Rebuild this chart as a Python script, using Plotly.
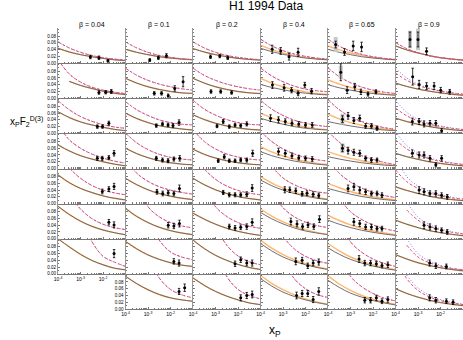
import plotly.graph_objects as go
from plotly.subplots import make_subplots

BETAS = ["0.04", "0.1", "0.2", "0.4", "0.65", "0.9"]
XGRID = [1e-4, 3.16e-4, 1e-3, 3.16e-3, 1e-2, 3.16e-2, 1e-1]
Y_TICKS = [0, 0.02, 0.04, 0.06, 0.08]
Y_TICK_TEXT = ["0.00", "0.02", "0.04", "0.06", "0.08"]
X_TICKS = [1e-4, 1e-3, 1e-2]
X_TICK_TEXT = ["10<sup>-4</sup>", "10<sup>-3</sup>", "10<sup>-2</sup>"]
N = None

# ---------------- beta = 0.04 (rows 1-7) ----------------
X1 = [[0.00275, 0.0066, 0.0166], [0.0066, 0.0132, 0.0234], [0.0056, 0.0095, 0.0182],
      [0.0056, 0.0093, 0.0182, 0.031], [0.0093, 0.0182, 0.031], [0.0182, 0.031], [0.031]]
Y1 = [[0.018, 0.016, 0.007], [0.017, 0.018, 0.020], [0.020, 0.020, 0.030],
      [0.030, 0.030, 0.032, 0.045], [0.036, 0.043, 0.051], [0.049, 0.041], [0.060]]
E1 = [[0.005, 0.005, 0.004], [0.005, 0.005, 0.006], [0.005, 0.005, 0.006],
      [0.006, 0.006, 0.006, 0.008], [0.007, 0.007, 0.009], [0.008, 0.009], [0.012]]
DASH1 = [[0.063, 0.045, 0.032, 0.023, 0.016, 0.012, 0.009],
         [0.115, 0.072, 0.048, 0.033, 0.024, 0.018, 0.014],
         [0.097, 0.070, 0.050, 0.036, 0.026, 0.019, 0.015],
         [0.130, 0.085, 0.060, 0.043, 0.031, 0.022, 0.016],
         [N, 0.105, 0.075, 0.054, 0.040, 0.032, 0.026],
         [N, 0.130, 0.088, 0.060, 0.043, 0.033, 0.027],
         [N, N, 0.160, 0.096, 0.052, 0.035, 0.022]]
SOLID1 = [[0.044, 0.033, 0.025, 0.019, 0.014, 0.010, 0.0075],
          [N, 0.050, 0.038, 0.029, 0.021, 0.015, 0.011],
          [0.064, 0.047, 0.034, 0.025, 0.018, 0.012, 0.008],
          [0.070, 0.052, 0.038, 0.028, 0.020, 0.013, 0.008],
          [0.085, 0.062, 0.045, 0.033, 0.023, 0.016, 0.011],
          [0.096, 0.072, 0.052, 0.037, 0.026, 0.018, 0.012],
          [0.104, 0.080, 0.058, 0.040, 0.027, 0.017, 0.012]]

# ---------------- beta = 0.1 (rows 1-8) ----------------
X2 = [[0.0012, 0.0029, 0.0066], [0.0019, 0.004, 0.0079, 0.0155, 0.0363],
      [0.00234, 0.0044, 0.0078, 0.0129, 0.024], [0.00234, 0.0044, 0.0078, 0.0141, 0.0257],
      [0.0025, 0.0045, 0.0079, 0.0141, 0.025], [0.0079, 0.0141, 0.025],
      [0.0141, 0.024], [0.024, 0.0427]]
Y2 = [[0.009, 0.016, 0.022], [0.0145, 0.0145, 0.0075, 0.029, 0.049],
      [0.023, 0.028, 0.025, 0.023, 0.032], [0.030, 0.025, 0.023, 0.028, 0.030],
      [0.035, 0.030, 0.032, 0.030, 0.045], [0.040, 0.038, 0.045],
      [0.037, 0.032], [0.052, 0.063]]
E2 = [[0.004, 0.005, 0.006], [0.005, 0.005, 0.005, 0.008, 0.015],
      [0.005, 0.005, 0.005, 0.006, 0.008], [0.006, 0.006, 0.006, 0.006, 0.008],
      [0.007, 0.007, 0.007, 0.007, 0.010], [0.008, 0.008, 0.010],
      [0.008, 0.009], [0.009, 0.011]]
DASH2 = [[0.063, 0.045, 0.032, 0.023, 0.017, 0.013, 0.010],
         [0.089, 0.068, 0.053, 0.042, 0.034, 0.028, 0.024],
         [0.094, 0.070, 0.053, 0.040, 0.032, 0.027, 0.025],
         [0.105, 0.076, 0.056, 0.042, 0.033, 0.028, 0.025],
         [0.130, 0.090, 0.066, 0.050, 0.040, 0.033, 0.028],
         [N, 0.160, 0.095, 0.065, 0.048, 0.038, 0.032],
         [N, N, 0.170, 0.100, 0.065, 0.050, 0.042],
         [N, N, 0.160, 0.092, 0.058, 0.042, 0.033]]
SOLID2 = [[0.041, 0.032, 0.025, 0.019, 0.015, 0.012, 0.010],
          [0.059, 0.045, 0.034, 0.026, 0.020, 0.016, 0.0145],
          [0.060, 0.044, 0.032, 0.023, 0.017, 0.013, 0.010],
          [0.060, 0.044, 0.032, 0.023, 0.017, 0.013, 0.011],
          [0.075, 0.056, 0.041, 0.030, 0.022, 0.016, 0.012],
          [0.090, 0.066, 0.048, 0.034, 0.024, 0.017, 0.012],
          [0.096, 0.074, 0.056, 0.043, 0.033, 0.026, 0.022],
          [0.097, 0.075, 0.057, 0.043, 0.033, 0.027, 0.023]]

# ---------------- beta = 0.2 ----------------
X3 = [[0.0006, 0.00155, 0.0035], [0.00063, 0.0017, 0.0052],
      [0.00117, 0.0022, 0.0041, 0.0074, 0.0132, 0.0245],
      [0.00132, 0.00245, 0.0041, 0.0074, 0.0132, 0.0245, 0.0447],
      [0.0022, 0.0041, 0.0074, 0.0132, 0.0245, 0.0427],
      [0.0041, 0.0074, 0.0132, 0.0245, 0.0427],
      [0.0074, 0.0132, 0.0245, 0.0427], [0.0132, 0.0245, 0.0427]]
Y3 = [[0.019, 0.021, 0.016], [0.020, 0.020, 0.017],
      [0.022, 0.035, 0.020, 0.025, 0.023, 0.028],
      [0.023, 0.035, 0.023, 0.023, 0.025, 0.025, 0.045],
      [0.033, 0.026, 0.026, 0.026, 0.028, 0.046],
      [0.036, 0.032, 0.034, 0.036, 0.049],
      [0.030, 0.042, 0.032, 0.032], [0.033, 0.040, 0.043]]
E3 = [[0.005, 0.005, 0.005], [0.005, 0.005, 0.005],
      [0.005, 0.006, 0.005, 0.005, 0.005, 0.006],
      [0.005, 0.006, 0.005, 0.005, 0.005, 0.006, 0.009],
      [0.006, 0.006, 0.006, 0.006, 0.007, 0.010],
      [0.007, 0.007, 0.007, 0.008, 0.010],
      [0.008, 0.008, 0.008, 0.009], [0.009, 0.009, 0.010]]
DASH3 = [[0.063, 0.045, 0.032, 0.023, 0.017, 0.013, 0.010],
         [0.089, 0.068, 0.053, 0.042, 0.034, 0.028, 0.024],
         [0.098, 0.072, 0.054, 0.041, 0.032, 0.027, 0.025],
         [0.115, 0.080, 0.058, 0.043, 0.034, 0.028, 0.025],
         [N, 0.102, 0.072, 0.052, 0.039, 0.031, 0.026],
         [N, 0.150, 0.095, 0.066, 0.048, 0.037, 0.031],
         [N, N, 0.140, 0.085, 0.053, 0.036, 0.027],
         [N, N, 0.170, 0.096, 0.058, 0.040, 0.030]]
SOLID3 = [[0.043, 0.033, 0.025, 0.019, 0.014, 0.011, 0.009],
          [0.059, 0.045, 0.034, 0.026, 0.020, 0.016, 0.014],
          [0.055, 0.041, 0.030, 0.022, 0.016, 0.012, 0.010],
          [0.057, 0.042, 0.031, 0.023, 0.017, 0.013, 0.011],
          [0.075, 0.056, 0.041, 0.030, 0.021, 0.015, 0.011],
          [0.076, 0.058, 0.043, 0.031, 0.022, 0.015, 0.010],
          [0.100, 0.075, 0.055, 0.040, 0.028, 0.019, 0.013],
          [0.092, 0.070, 0.052, 0.038, 0.027, 0.018, 0.013]]

# ---------------- beta = 0.4 ----------------
X4 = [[0.00033, 0.00079, 0.00186, 0.0047],
      [0.00034, 0.00112, 0.0024, 0.0047, 0.0093, 0.0186],
      [0.00028, 0.00063, 0.00126, 0.0025, 0.005, 0.01, 0.02],
      [0.00063, 0.00126, 0.0025, 0.005, 0.01, 0.02],
      [0.0012, 0.002, 0.0037, 0.0071, 0.0117, 0.0219, 0.0389],
      [0.00224, 0.0042, 0.0074, 0.0129, 0.0234, 0.0417],
      [0.0037, 0.0071, 0.0126, 0.0219, 0.0389],
      [0.004, 0.0071, 0.0126, 0.0219, 0.0389]]
Y4 = [[0.041, 0.036, 0.019, 0.032],
      [0.039, 0.031, 0.024, 0.0145, 0.039, 0.021],
      [0.045, 0.040, 0.035, 0.030, 0.028, 0.025, 0.025],
      [0.050, 0.045, 0.038, 0.032, 0.030, 0.028],
      [0.041, 0.041, 0.038, 0.029, 0.031, 0.028, 0.024],
      [0.051, 0.044, 0.036, 0.041, 0.036, 0.058],
      [0.037, 0.040, 0.024, 0.032, 0.035],
      [0.040, 0.046, 0.046, 0.028, 0.052]]
E4 = [[0.012, 0.010, 0.010, 0.012],
      [0.010, 0.010, 0.008, 0.007, 0.008, 0.008],
      [0.010, 0.009, 0.008, 0.007, 0.007, 0.007, 0.007],
      [0.010, 0.009, 0.008, 0.007, 0.007, 0.007],
      [0.009, 0.008, 0.008, 0.007, 0.007, 0.007, 0.007],
      [0.010, 0.009, 0.008, 0.008, 0.008, 0.010],
      [0.010, 0.009, 0.008, 0.008, 0.009],
      [0.010, 0.009, 0.009, 0.009, 0.011]]
DASH4 = [[0.071, 0.051, 0.037, 0.027, 0.020, 0.015, 0.012],
         [0.090, 0.066, 0.049, 0.036, 0.027, 0.022, 0.019],
         [0.098, 0.072, 0.053, 0.039, 0.030, 0.024, 0.020],
         [0.110, 0.080, 0.058, 0.043, 0.033, 0.026, 0.022],
         [N, 0.110, 0.076, 0.056, 0.043, 0.035, 0.031],
         [N, 0.140, 0.092, 0.065, 0.049, 0.039, 0.033],
         [N, N, 0.110, 0.074, 0.052, 0.039, 0.031],
         [N, N, 0.150, 0.090, 0.060, 0.043, 0.034]]
SOLID4 = [[0.044, 0.034, 0.026, 0.020, 0.015, 0.012, 0.010],
          [0.041, 0.032, 0.025, 0.019, 0.015, 0.012, 0.010],
          [0.045, 0.035, 0.027, 0.020, 0.015, 0.012, 0.010],
          [0.050, 0.038, 0.029, 0.022, 0.017, 0.013, 0.010],
          [0.070, 0.053, 0.040, 0.030, 0.022, 0.016, 0.012],
          [0.078, 0.059, 0.044, 0.032, 0.023, 0.017, 0.012],
          [0.090, 0.068, 0.050, 0.037, 0.027, 0.019, 0.013],
          [0.090, 0.068, 0.050, 0.037, 0.027, 0.019, 0.013]]
ORANGE4 = [[0.053, 0.040, 0.030, 0.023, 0.017, 0.013, 0.010],
           [0.059, 0.045, 0.034, 0.025, 0.019, 0.014, 0.011],
           [0.060, 0.046, 0.035, 0.026, 0.019, 0.014, 0.011],
           [0.065, 0.049, 0.037, 0.028, 0.021, 0.015, 0.012],
           [0.080, 0.061, 0.046, 0.034, 0.025, 0.018, 0.013],
           [0.088, 0.067, 0.050, 0.037, 0.027, 0.019, 0.013],
           [0.100, 0.076, 0.057, 0.042, 0.030, 0.021, 0.014],
           [0.100, 0.076, 0.057, 0.042, 0.030, 0.021, 0.014]]

# ---------------- beta = 0.65 ----------------
X5 = [[0.00022, 0.00054, 0.00132, 0.0031],
      [0.00037, 0.00071, 0.00155, 0.0029, 0.006, 0.0135],
      [0.00044, 0.00078, 0.00141, 0.00257, 0.0047, 0.0085, 0.0151],
      [0.00044, 0.00078, 0.00141, 0.00257, 0.0047, 0.0085, 0.0151],
      [0.00078, 0.00141, 0.00257, 0.0047, 0.0085, 0.0151, 0.025],
      [0.00141, 0.00257, 0.0047, 0.0085, 0.0151, 0.025],
      [0.0024, 0.0043, 0.0078, 0.0141, 0.0251, 0.0457],
      [0.0043, 0.0078, 0.0141, 0.0251, 0.0457]]
Y5 = [[0.055, 0.033, 0.051, 0.048],
      [0.077, 0.024, 0.034, 0.019, 0.0125, 0.019],
      [0.042, 0.052, 0.038, 0.045, 0.022, 0.022, 0.015],
      [0.060, 0.053, 0.048, 0.045, 0.030, 0.025, 0.025],
      [0.045, 0.050, 0.040, 0.035, 0.030, 0.030, 0.025],
      [0.050, 0.045, 0.035, 0.035, 0.030, 0.030],
      [0.044, 0.032, 0.032, 0.030, 0.025, 0.027],
      [0.026, 0.026, 0.033, 0.023, 0.028]]
E5 = [[0.010, 0.010, 0.014, 0.014],
      [0.025, 0.010, 0.010, 0.008, 0.006, 0.006],
      [0.010, 0.010, 0.009, 0.009, 0.007, 0.007, 0.006],
      [0.010, 0.010, 0.009, 0.009, 0.007, 0.007, 0.006],
      [0.010, 0.010, 0.009, 0.008, 0.007, 0.007, 0.007],
      [0.010, 0.009, 0.008, 0.008, 0.007, 0.007],
      [0.010, 0.008, 0.008, 0.007, 0.007, 0.008],
      [0.008, 0.008, 0.008, 0.007, 0.008]]
DASH5 = [[0.071, 0.050, 0.036, 0.026, 0.019, 0.014, 0.011],
         [0.090, 0.064, 0.046, 0.033, 0.024, 0.018, 0.014],
         [0.100, 0.070, 0.049, 0.035, 0.025, 0.017, 0.012],
         [0.110, 0.078, 0.054, 0.038, 0.027, 0.018, 0.011],
         [0.130, 0.090, 0.064, 0.046, 0.033, 0.024, 0.018],
         [N, 0.120, 0.080, 0.057, 0.041, 0.030, 0.023],
         [N, 0.160, 0.095, 0.064, 0.044, 0.031, 0.022],
         [N, 0.170, 0.097, 0.066, 0.046, 0.032, 0.024]]
SOLID5 = [[0.041, 0.032, 0.025, 0.019, 0.015, 0.012, 0.010],
          [0.040, 0.031, 0.024, 0.018, 0.014, 0.011, 0.009],
          [0.035, 0.028, 0.022, 0.017, 0.013, 0.010, 0.008],
          [0.035, 0.028, 0.022, 0.017, 0.013, 0.010, 0.008],
          [0.045, 0.036, 0.028, 0.021, 0.016, 0.012, 0.009],
          [0.055, 0.043, 0.033, 0.025, 0.019, 0.014, 0.010],
          [0.077, 0.058, 0.043, 0.032, 0.023, 0.016, 0.011],
          [0.085, 0.064, 0.047, 0.035, 0.025, 0.018, 0.012]]
ORANGE5 = [[0.051, 0.039, 0.030, 0.023, 0.017, 0.013, 0.010],
           [0.055, 0.042, 0.032, 0.024, 0.018, 0.013, 0.010],
           [0.057, 0.043, 0.032, 0.024, 0.018, 0.013, 0.010],
           [0.050, 0.039, 0.030, 0.023, 0.017, 0.013, 0.010],
           [0.060, 0.047, 0.036, 0.027, 0.020, 0.015, 0.011],
           [0.070, 0.054, 0.041, 0.031, 0.023, 0.017, 0.012],
           [0.090, 0.068, 0.050, 0.037, 0.027, 0.019, 0.013],
           [0.098, 0.074, 0.055, 0.040, 0.029, 0.020, 0.014]]

# ---------------- beta = 0.9 ----------------
X6 = [[0.00044, 0.001, 0.0024],
      [0.00058, 0.00112, 0.0024, 0.0052, 0.0102, 0.0257],
      [0.00056, 0.00112, 0.00186, 0.0034, 0.0062, 0.0112],
      [0.00056, 0.00112, 0.00186, 0.0034, 0.0062, 0.0112],
      [0.00112, 0.00186, 0.0034, 0.0062, 0.0112, 0.02],
      [0.00186, 0.0034, 0.0062, 0.0112, 0.02],
      [0.0033, 0.0062, 0.0182],
      [0.0033, 0.0062, 0.0182, 0.0363]]
Y6 = [[0.070, 0.070, 0.035],
      [0.064, 0.041, 0.036, 0.036, 0.024, 0.019],
      [0.035, 0.035, 0.028, 0.030, 0.030, 0.008],
      [0.045, 0.040, 0.040, 0.030, 0.011, 0.030],
      [0.040, 0.035, 0.030, 0.030, 0.025, 0.020],
      [0.040, 0.035, 0.030, 0.025, 0.020],
      [0.032, 0.024, 0.022],
      [0.033, 0.026, 0.023, 0.020]]
E6 = [[0.022, 0.022, 0.010],
      [0.025, 0.012, 0.010, 0.010, 0.008, 0.007],
      [0.010, 0.009, 0.009, 0.008, 0.008, 0.006],
      [0.010, 0.009, 0.009, 0.008, 0.006, 0.008],
      [0.010, 0.009, 0.008, 0.008, 0.007, 0.007],
      [0.010, 0.009, 0.008, 0.007, 0.007],
      [0.009, 0.008, 0.007],
      [0.009, 0.008, 0.007, 0.007]]
DASH6 = [[0.061, 0.043, 0.031, 0.022, 0.016, 0.012, 0.009],
         [0.075, 0.053, 0.038, 0.028, 0.021, 0.016, 0.012],
         [0.075, 0.052, 0.037, 0.027, 0.020, 0.015, 0.011],
         [0.085, 0.058, 0.041, 0.029, 0.021, 0.016, 0.012],
         [0.100, 0.065, 0.045, 0.032, 0.023, 0.017, 0.013],
         [N, 0.085, 0.055, 0.037, 0.026, 0.019, 0.014],
         [N, 0.085, 0.050, 0.033, 0.023, 0.016, 0.012],
         [0.150, 0.090, 0.055, 0.036, 0.025, 0.018, 0.013]]
DOT6 = [[0.061, 0.043, 0.031, 0.022, 0.016, 0.012, 0.009],
        [0.089, 0.060, 0.042, 0.030, 0.022, 0.016, 0.012],
        [0.099, 0.062, 0.042, 0.030, 0.022, 0.016, 0.012],
        [0.110, 0.068, 0.046, 0.032, 0.023, 0.017, 0.012],
        [0.140, 0.080, 0.052, 0.036, 0.026, 0.019, 0.014],
        [N, 0.110, 0.064, 0.042, 0.029, 0.021, 0.015],
        [N, 0.105, 0.060, 0.038, 0.025, 0.017, 0.012],
        [N, 0.100, 0.062, 0.041, 0.028, 0.020, 0.015]]
SOLID6 = [[0.051, 0.039, 0.030, 0.022, 0.016, 0.012, 0.009],
          [0.045, 0.035, 0.027, 0.021, 0.016, 0.012, 0.009],
          [0.045, 0.035, 0.027, 0.020, 0.015, 0.011, 0.008],
          [0.045, 0.035, 0.027, 0.020, 0.015, 0.011, 0.008],
          [0.050, 0.039, 0.030, 0.022, 0.016, 0.012, 0.009],
          [0.055, 0.043, 0.033, 0.024, 0.018, 0.013, 0.009],
          [0.057, 0.044, 0.033, 0.025, 0.018, 0.013, 0.009],
          [0.060, 0.046, 0.035, 0.026, 0.019, 0.014, 0.010]]

# systematic (grey) error bars: (column, row, point index, half-size)
SYST = [(5, 1, 0, 0.022), (6, 1, 0, 0.026), (6, 1, 1, 0.032),
        (5, 2, 0, 0.02), (5, 3, 0, 0.016), (5, 4, 0, 0.015)]

COLS = [
    dict(x=X1, y=Y1, e=E1, dash=DASH1, dot=DASH1, solid=SOLID1, orange=SOLID1),
    dict(x=X2, y=Y2, e=E2, dash=DASH2, dot=DASH2, solid=SOLID2, orange=SOLID2),
    dict(x=X3, y=Y3, e=E3, dash=DASH3, dot=DASH3, solid=SOLID3, orange=SOLID3),
    dict(x=X4, y=Y4, e=E4, dash=DASH4, dot=DASH4, solid=SOLID4, orange=ORANGE4),
    dict(x=X5, y=Y5, e=E5, dash=DASH5, dot=DASH5, solid=SOLID5, orange=ORANGE5),
    dict(x=X6, y=Y6, e=E6, dash=DASH6, dot=DOT6, solid=SOLID6, orange=SOLID6),
]

W, H = 463, 340
ML, MR, MT, MB = 58, 0, 28, 31
PW, PH = W - ML - MR, H - MT - MB
FONT = "Arial, Liberation Sans, sans-serif"

def px_to_paper(px, py):
    return (px - ML) / PW, (H - MB - py) / PH

fig = make_subplots(rows=8, cols=6, horizontal_spacing=0, vertical_spacing=0)

RED = "rgb(236,72,96)"
BLUE = "rgb(110,110,255)"
GREY = "rgb(95,95,95)"
ORANGE = "rgb(255,182,110)"

for ci, col in enumerate(COLS):
    c = ci + 1
    for ri in range(len(col["x"])):
        r = ri + 1
        curves = [
            (col["orange"][ri], dict(color=ORANGE, width=1.4, dash="solid")),
            (col["solid"][ri], dict(color=GREY, width=0.9, dash="solid")),
            (col["dot"][ri], dict(color=BLUE, width=1.0, dash="1px,2px")),
            (col["dash"][ri], dict(color=RED, width=1.0, dash="3px,2px")),
        ]
        for yy, ln in curves:
            fig.add_trace(go.Scatter(x=XGRID, y=yy, mode="lines", line=dict(shape="spline", **ln),
                                     hoverinfo="skip", showlegend=False), row=r, col=c)
        syst = [0] * len(col["x"][ri])
        for (sc, sr, si, sv) in SYST:
            if sc == c and sr == r:
                syst[si] = sv
        if any(syst):
            fig.add_trace(go.Scatter(x=col["x"][ri], y=col["y"][ri], mode="markers",
                                     marker=dict(size=1, color="rgba(0,0,0,0)"),
                                     error_y=dict(type="data", array=syst, color="rgb(200,200,200)",
                                                  thickness=4, width=0),
                                     showlegend=False, hoverinfo="skip"), row=r, col=c)
        fig.add_trace(go.Scatter(x=col["x"][ri], y=col["y"][ri], mode="markers",
                                 marker=dict(size=3, color="black"),
                                 error_y=dict(type="data", array=col["e"][ri], color="black",
                                              thickness=0.8, width=1.2),
                                 showlegend=False, hoverinfo="skip"), row=r, col=c)

minor_x = [m * d for d in (1e-4, 1e-3, 1e-2) for m in range(2, 10)]
for r in range(1, 9):
    for c in range(1, 7):
        if c == 1 and r == 8:
            fig.update_xaxes(visible=False, row=r, col=c)
            fig.update_yaxes(visible=False, row=r, col=c)
            continue
        show_x = (r == 8) or (c == 1 and r == 7)
        show_y = (c == 1) or (c == 2 and r == 8)
        fig.update_xaxes(type="log", range=[-4, -1], showgrid=False, zeroline=False,
                         showline=True, linecolor="rgb(120,120,120)", linewidth=1,
                         ticks="inside", ticklen=2, tickcolor="rgb(120,120,120)",
                         tickvals=X_TICKS, ticktext=X_TICK_TEXT, showticklabels=show_x,
                         tickfont=dict(size=5, family=FONT, color="black"),
                         minor=dict(tickvals=minor_x, ticks="inside", ticklen=1.2,
                                    tickcolor="rgb(120,120,120)"),
                         row=r, col=c)
        fig.update_yaxes(range=[0, 0.104], showgrid=False, zeroline=False,
                         showline=True, linecolor="rgb(150,150,150)", linewidth=1,
                         ticks="inside", ticklen=2, tickcolor="rgb(120,120,120)",
                         tickvals=Y_TICKS, ticktext=Y_TICK_TEXT, showticklabels=show_y,
                         tickfont=dict(size=4.5, family=FONT, color="black"),
                         minor=dict(dtick=0.01, ticks="inside", ticklen=1.2,
                                    tickcolor="rgb(120,120,120)"),
                         row=r, col=c)

def label(px, py, text, size):
    xp, yp = px_to_paper(px, py)
    return dict(x=xp, y=yp, xref="paper", yref="paper", text=text, showarrow=False,
                xanchor="center", yanchor="middle",
                font=dict(size=size, family=FONT, color="black"))

ann = []
colw = PW / 6
for i, b in enumerate(BETAS):
    ann.append(label(ML + colw * (i + 0.5), 25, "\u03b2 = " + b, 7))
ann.append(label(266, 6, "H1 1994 Data", 12))
ann.append(label(26, 121, "x<sub>P</sub>F<sub>2</sub><sup>D(3)</sup>", 10))
ann.append(label(275, 331, "x<sub>P</sub>", 12))

fig.update_layout(width=W, height=H, margin=dict(l=ML, r=MR, t=MT, b=MB, autoexpand=False),
                  paper_bgcolor="white", plot_bgcolor="white", showlegend=False,
                  annotations=ann)

fig.write_html("out.html", config={"displayModeBar": False},
               post_script="document.body.style.margin='0px';")
